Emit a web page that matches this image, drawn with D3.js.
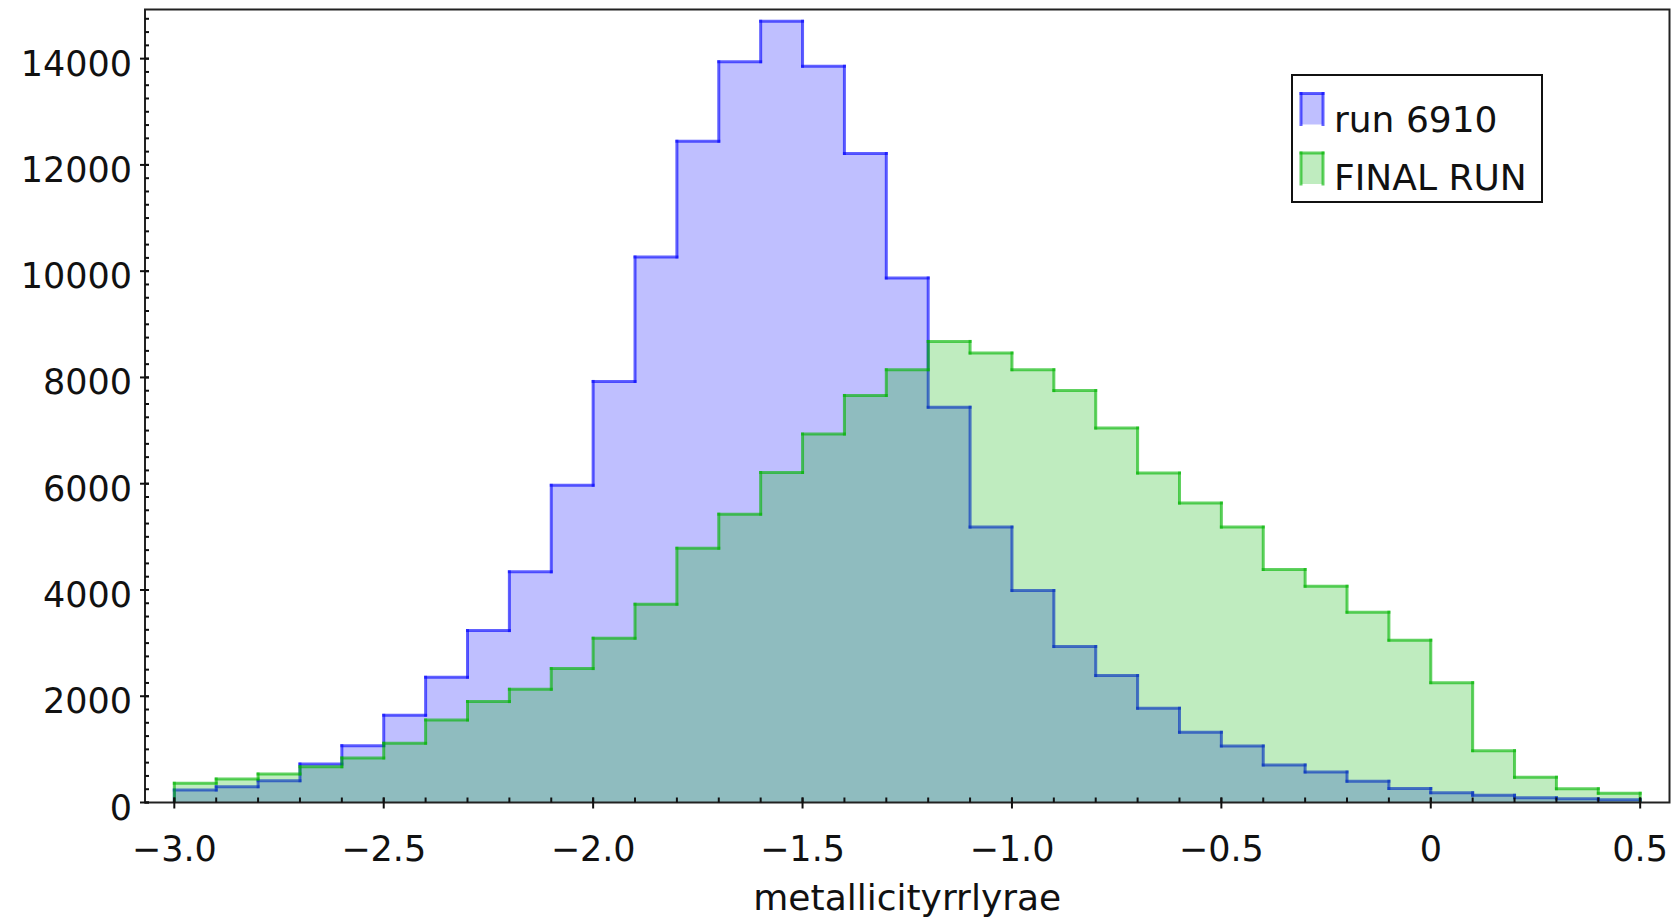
<!DOCTYPE html>
<html>
<head>
<meta charset="utf-8">
<script src="https://cdn.jsdelivr.net/npm/d3@7"></script>
<style>
  html, body { margin: 0; padding: 0; background: #fff; }
  svg { display: block; }
  text { font-family: "DejaVu Sans", "Liberation Sans", sans-serif; fill: #111; }
</style>
</head>
<body>
<svg id="chart" width="1673" height="921"></svg>
<script>
// Bin edges of the metallicity histogram (width 0.1)
const binEdges = [-3.0, -2.9, -2.8, -2.7, -2.6, -2.5, -2.4, -2.3, -2.2, -2.1,
                  -2.0, -1.9, -1.8, -1.7, -1.6, -1.5, -1.4, -1.3, -1.2, -1.1,
                  -1.0, -0.9, -0.8, -0.7, -0.6, -0.5, -0.4, -0.3, -0.2, -0.1,
                   0.0,  0.1,  0.2,  0.3,  0.4,  0.5];

// Counts per bin, one value for each interval between consecutive edges
const run6910 = [235, 298, 411, 725, 1070, 1642, 2357, 3235, 4341, 5970,
                 7925, 10267, 12445, 13940, 14704, 13857, 12213, 9872, 7440, 5183,
                 3989, 2935, 2389, 1774, 1322, 1064, 706, 575, 400, 264,
                 185, 136, 90, 72, 53];

const finalRun = [361, 442, 537, 675, 838, 1115, 1553, 1899, 2131, 2520,
                  3092, 3732, 4785, 5427, 6211, 6934, 7661, 8145, 8678, 8459,
                  8145, 7752, 7047, 6200, 5635, 5183, 4385, 4070, 3582, 3055,
                  2256, 976, 475, 260, 173];

const seriesNames = ["run 6910", "FINAL RUN"];

const xTickValues = [-3.0, -2.5, -2.0, -1.5, -1.0, -0.5, 0, 0.5];
const xTickLabels = ["\u22123.0", "\u22122.5", "\u22122.0", "\u22121.5", "\u22121.0", "\u22120.5", "0", "0.5"];
const xMinorTicks = binEdges;

const yTickValues = [0, 2000, 4000, 6000, 8000, 10000, 12000, 14000];
const yTickLabels = ["0", "2000", "4000", "6000", "8000", "10000", "12000", "14000"];
const yMinorStep = 250;

const xLabel = "metallicityrrlyrae";

// ---- layout ----
const svg = d3.select("#chart");
const plot = { left: 145, right: 1669.5, top: 9.5, bottom: 802.5 };
const tickFont = 35;
const labelFont = 36;

const x = d3.scaleLinear().domain([-3.07, 0.57]).range([plot.left, plot.right]);
const y = d3.scaleLinear().domain([0, 14925]).range([plot.bottom, plot.top]);

const styles = [
  { stroke: "#0000ff", fill: "#0000ff" },
  { stroke: "#00b400", fill: "#00b400" }
];

svg.append("defs").append("clipPath").attr("id", "plotclip")
  .append("rect")
  .attr("x", plot.left).attr("y", plot.top)
  .attr("width", plot.right - plot.left).attr("height", plot.bottom - plot.top);

const marks = svg.append("g").attr("clip-path", "url(#plotclip)");

function drawHist(values, st) {
  // step points: each bin's value held from its left edge to its right edge
  const pts = values.map((v, i) => ({ x: binEdges[i], v }));
  pts.push({ x: binEdges[binEdges.length - 1], v: values[values.length - 1] });

  const area = d3.area()
    .x(d => x(d.x))
    .y0(y(0))
    .y1(d => y(d.v))
    .curve(d3.curveStepAfter);

  marks.append("path")
    .datum(pts)
    .attr("d", area)
    .attr("fill", st.fill)
    .attr("fill-opacity", 0.25)
    .attr("stroke", "none");

  // outline built from separate segments so the joints overlap
  const outline = [[binEdges[0], 0]];
  values.forEach((v, i) => {
    outline.push([binEdges[i], v]);
    outline.push([binEdges[i + 1], v]);
  });
  outline.push([binEdges[binEdges.length - 1], 0]);

  marks.append("g").selectAll("line")
    .data(d3.pairs(outline))
    .join("line")
    .attr("x1", d => x(d[0][0])).attr("y1", d => y(d[0][1]))
    .attr("x2", d => x(d[1][0])).attr("y2", d => y(d[1][1]))
    .attr("stroke", st.stroke)
    .attr("stroke-opacity", 0.62)
    .attr("stroke-width", 3)
    .attr("stroke-linecap", "square");
}

drawHist(run6910, styles[0]);
drawHist(finalRun, styles[1]);

// ---- frame ----
svg.append("rect")
  .attr("x", plot.left).attr("y", plot.top)
  .attr("width", plot.right - plot.left).attr("height", plot.bottom - plot.top)
  .attr("fill", "none").attr("stroke", "#222").attr("stroke-width", 2);

// ---- x axis ticks ----
const axisG = svg.append("g").attr("stroke", "#111").attr("stroke-width", 2);
xMinorTicks.forEach(v => {
  axisG.append("line")
    .attr("x1", x(v)).attr("x2", x(v))
    .attr("y1", plot.bottom - 5).attr("y2", plot.bottom);
});
xTickValues.forEach(v => {
  axisG.append("line")
    .attr("x1", x(v)).attr("x2", x(v))
    .attr("y1", plot.bottom - 5).attr("y2", plot.bottom + 6);
});
svg.append("g").selectAll("text")
  .data(xTickValues)
  .join("text")
  .attr("x", d => x(d))
  .attr("y", 861)
  .attr("text-anchor", "middle")
  .attr("font-size", tickFont)
  .text((d, i) => xTickLabels[i]);

// ---- y axis ticks ----
const yMax = y.domain()[1];
d3.range(0, yMax, yMinorStep).forEach(v => {
  axisG.append("line")
    .attr("x1", plot.left).attr("x2", plot.left + 4)
    .attr("y1", y(v)).attr("y2", y(v));
});
yTickValues.forEach(v => {
  axisG.append("line")
    .attr("x1", plot.left - 5).attr("x2", plot.left + 4)
    .attr("y1", y(v)).attr("y2", y(v));
});
svg.append("g").selectAll("text")
  .data(yTickValues)
  .join("text")
  .attr("x", 132)
  .attr("y", d => y(d) + 17)
  .attr("text-anchor", "end")
  .attr("font-size", tickFont)
  .text((d, i) => yTickLabels[i]);

// ---- axis title ----
svg.append("text")
  .attr("x", (plot.left + plot.right) / 2)
  .attr("y", 910)
  .attr("text-anchor", "middle")
  .attr("font-size", labelFont)
  .text(xLabel);

// ---- legend ----
const legend = svg.append("g");
legend.append("rect")
  .attr("x", 1292).attr("y", 75).attr("width", 250).attr("height", 127)
  .attr("fill", "#fff").attr("stroke", "#111").attr("stroke-width", 2);

const legendRows = [
  { name: seriesNames[0], st: styles[0], top: 93.5, base: 132 },
  { name: seriesNames[1], st: styles[1], top: 153, base: 190 }
];
legendRows.forEach(r => {
  const sx = 1301, sw = 22, sh = 31;
  legend.append("rect")
    .attr("x", sx).attr("y", r.top).attr("width", sw).attr("height", sh)
    .attr("fill", r.st.fill).attr("fill-opacity", 0.25);
  const edges = [
    [[sx, r.top + sh], [sx, r.top]],
    [[sx, r.top], [sx + sw, r.top]],
    [[sx + sw, r.top], [sx + sw, r.top + sh]]
  ];
  legend.append("g").selectAll("line")
    .data(edges)
    .join("line")
    .attr("x1", d => d[0][0]).attr("y1", d => d[0][1])
    .attr("x2", d => d[1][0]).attr("y2", d => d[1][1])
    .attr("stroke", r.st.stroke)
    .attr("stroke-opacity", 0.62)
    .attr("stroke-width", 3)
    .attr("stroke-linecap", "square");
  legend.append("text")
    .attr("x", 1334).attr("y", r.base)
    .attr("font-size", labelFont)
    .text(r.name);
});
</script>
</body>
</html>
